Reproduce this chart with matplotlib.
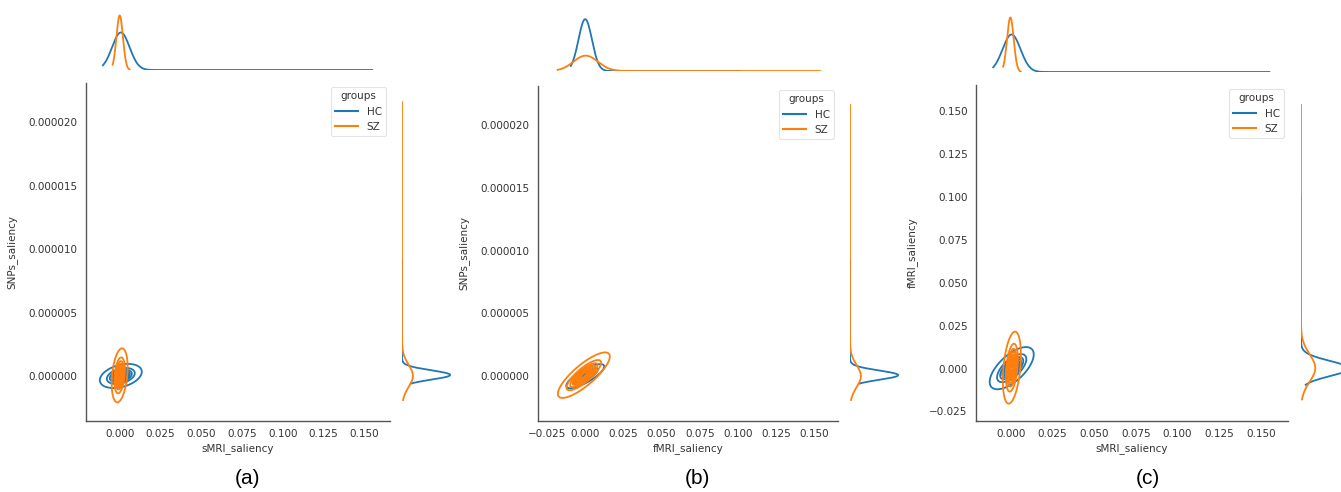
import numpy as np
import matplotlib.pyplot as plt
from matplotlib.ticker import MultipleLocator, FuncFormatter

W, H = 1341, 492

groups = ['HC', 'SZ']
colors = ['#1f77b4', '#ff7f0e']
group_weight = [0.65, 0.35]

# marginal saliency distributions: mean, sd, drawn extent (HC, SZ)
smri_mean = [0.0005, -0.0002]
smri_sd = [0.0054, 0.0020]
smri_extent = [(-0.0105, 0.155), (-0.0045, 0.006)]

snps_mean = [0.08e-6, 0.0]
snps_sd = [0.37e-6, 0.88e-6]
snps_extent = [(-0.6e-6, 9.2e-6), (-1.9e-6, 2.16e-5)]

fmri_mean = [0.0, 0.0003]
fmri_sd = [0.0044, 0.0080]
fmri_extent = [(-0.0095, 0.101), (-0.018, 0.1536)]

# joint contours per panel: centre, half-extent of the outermost contour, correlation (HC, SZ)
centre_a = [(0.0005, 0.0), (-0.0002, 0.05e-6)]
spread_a = [(0.0129, 0.95e-6), (0.0049, 2.13e-6)]
corr_a = [0.35, 0.30]

centre_b = [(0.0, 0.0), (-0.0009, 0.08e-6)]
spread_b = [(0.0124, 0.96e-6), (0.0170, 1.81e-6)]
corr_b = [0.80, 0.82]

centre_c = [(0.0006, 0.0002), (0.0007, 0.0005)]
spread_c = [(0.0132, 0.0123), (0.0054, 0.0210)]
corr_c = [0.65, 0.35]

variables = {
    'sMRI_saliency': (smri_mean, smri_sd, smri_extent),
    'SNPs_saliency': (snps_mean, snps_sd, snps_extent),
    'fMRI_saliency': (fmri_mean, fmri_sd, fmri_extent),
}

plt.rcParams['font.family'] = 'DejaVu Sans'
plt.rcParams['text.color'] = '#333333'
plt.rcParams['axes.labelcolor'] = '#333333'
plt.rcParams['xtick.color'] = '#333333'
plt.rcParams['ytick.color'] = '#333333'

fig = plt.figure(figsize=(W / 100, H / 100), dpi=100)


def px_axes(left, top, right, bottom, **kw):
    return fig.add_axes([left / W, 1 - bottom / H, (right - left) / W, (bottom - top) / H], **kw)


def density(t, m, s, w):
    return w * np.exp(-0.5 * ((t - m) / s) ** 2) / (s * np.sqrt(2 * np.pi))


def six_dec(v, pos):
    return f'{v:.6f}'.replace('-', '\u2212')


# iso-proportion levels (thresh 0.05, 10 levels) of a heavy tailed (t, 4 dof) kernel estimate
nu = 4
props = np.linspace(0.05, 1, 10)[:-1]
radii = np.sort(np.sqrt(nu * (props ** (-2 / nu) - 1)))
r_out = radii[-1]

panels = [
    dict(x='sMRI_saliency', y='SNPs_saliency', centre=centre_a, spread=spread_a, corr=corr_a,
         xlim=(-0.0209, 0.166), ylim=(-3.55e-6, 2.31e-5),
         main=(86, 83, 390, 421), top=(86, 10, 390, 70), right=(402, 83, 455, 421), letter='(a)', lx=247),
    dict(x='fMRI_saliency', y='SNPs_saliency', centre=centre_b, spread=spread_b, corr=corr_b,
         xlim=(-0.0309, 0.1655), ylim=(-3.57e-6, 2.31e-5),
         main=(538, 86, 838, 421), top=(538, 14, 838, 71), right=(850, 86, 903, 421), letter='(b)', lx=697),
    dict(x='sMRI_saliency', y='fMRI_saliency', centre=centre_c, spread=spread_c, corr=corr_c,
         xlim=(-0.0208, 0.1662), ylim=(-0.0306, 0.1653),
         main=(976, 85, 1288, 421), top=(976, 12, 1288, 72), right=(1301, 85, 1354, 421), letter='(c)', lx=1148),
]

for p in panels:
    ax = px_axes(*p['main'])
    axt = px_axes(*p['top'], sharex=ax)
    axr = px_axes(*p['right'], sharey=ax)
    xm, xs, xe = variables[p['x']]
    ym, ys, ye = variables[p['y']]

    top_peak, right_peak = 0, 0
    for i, g in enumerate(groups):
        # joint density contours
        cx, cy = p['centre'][i]
        sx, sy = p['spread'][i]
        gx = np.linspace(cx - 1.15 * sx, cx + 1.15 * sx, 400)
        gy = np.linspace(cy - 1.15 * sy, cy + 1.15 * sy, 400)
        X, Y = np.meshgrid(gx, gy)
        zx = (X - cx) / (sx / r_out)
        zy = (Y - cy) / (sy / r_out)
        rho = p['corr'][i]
        R = np.sqrt((zx ** 2 - 2 * rho * zx * zy + zy ** 2) / (1 - rho ** 2))
        ax.contour(X, Y, R, levels=radii, colors=colors[i], linewidths=1.3)
        ax.plot([], [], color=colors[i], lw=1.5, label=g)

        # marginal densities
        tx = np.linspace(xe[i][0], xe[i][1], 3000)
        dx = density(tx, xm[i], xs[i], group_weight[i])
        axt.plot(tx, dx, color=colors[i], lw=1.3)
        top_peak = max(top_peak, dx.max())

        ty = np.linspace(ye[i][0], ye[i][1], 3000)
        dy = density(ty, ym[i], ys[i], group_weight[i])
        axr.plot(dy, ty, color=colors[i], lw=1.3)
        right_peak = max(right_peak, dy.max())

    ax.set_xlim(*p['xlim'])
    ax.set_ylim(*p['ylim'])
    ax.xaxis.set_major_locator(MultipleLocator(0.025))
    if p['y'] == 'SNPs_saliency':
        ax.yaxis.set_major_locator(MultipleLocator(5e-6))
        ax.yaxis.set_major_formatter(FuncFormatter(six_dec))
    else:
        ax.yaxis.set_major_locator(MultipleLocator(0.025))
    ax.tick_params(length=0, labelsize=7.5, pad=6)
    for s in ['top', 'right']:
        ax.spines[s].set_visible(False)
    for s in ['left', 'bottom']:
        ax.spines[s].set_color('#555555')
        ax.spines[s].set_linewidth(1.0)
    ax.set_xlabel(p['x'], fontsize=7.5, labelpad=3)
    ax.set_ylabel(p['y'], fontsize=7.5, labelpad=8)
    leg = ax.legend(title='groups', loc='upper right', fontsize=7.5, title_fontsize=7.5,
                    frameon=True, handlelength=2.2, borderaxespad=0.4)
    leg.get_frame().set_edgecolor('#dddddd')
    leg.get_frame().set_linewidth(0.8)

    axt.set_ylim(0, top_peak * 1.1)
    axr.set_xlim(0, right_peak * 1.1)
    for a in (axt, axr):
        a.axis('off')

    fig.text(p['lx'] / W, 1 - 478 / H, p['letter'], ha='center', va='center',
             fontsize=15, family='Liberation Sans', color='black')

fig.savefig('out.png', dpi=100)
